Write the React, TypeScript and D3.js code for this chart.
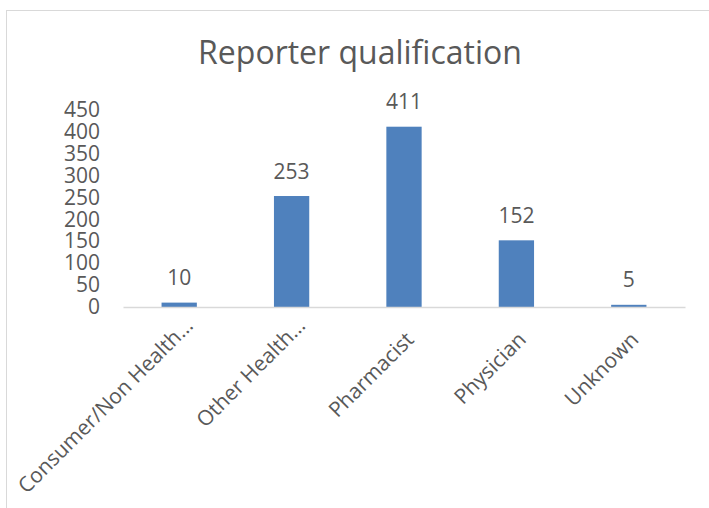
import React, { useRef, useEffect } from "react";
import * as d3 from "d3";

const categories = [
  "Consumer/Non Health…",
  "Other Health…",
  "Pharmacist",
  "Physician",
  "Unknown",
];
const counts = [10, 253, 411, 152, 5];
const yTicks = [0, 50, 100, 150, 200, 250, 300, 350, 400, 450];
const title = "Reporter qualification";

const App = () => {
  const ref = useRef<SVGSVGElement>(null);

  useEffect(() => {
    const svg = d3.select(ref.current);
    svg.selectAll("*").remove();

    const width = 709;
    const height = 508;
    const font = "'Open Sans', sans-serif";
    const textColor = "#595959";
    const plot = { left: 123, right: 685, top: 109.6, bottom: 307 };

    const x = d3
      .scaleBand()
      .domain(categories)
      .range([plot.left, plot.right])
      .paddingInner(0.686)
      .paddingOuter(0.343);

    const y = d3
      .scaleLinear()
      .domain([0, 450])
      .range([plot.bottom, plot.top]);

    // chart area border (clipped at right and bottom like the screenshot)
    svg
      .append("rect")
      .attr("x", 6.5)
      .attr("y", 10.5)
      .attr("width", width + 20)
      .attr("height", height + 20)
      .attr("fill", "white")
      .attr("stroke", "#D9D9D9")
      .attr("stroke-width", 1);

    svg
      .append("text")
      .attr("x", 360)
      .attr("y", 64)
      .attr("text-anchor", "middle")
      .style("font-family", font)
      .style("font-size", "32px")
      .style("fill", textColor)
      .text(title);

    // y axis labels, no line or ticks
    const yAxis = svg
      .append("g")
      .attr("transform", `translate(${plot.left},0)`)
      .call(d3.axisLeft(y).tickValues(yTicks).tickSize(0).tickPadding(23));
    yAxis.select(".domain").remove();
    yAxis
      .selectAll("text")
      .style("font-family", font)
      .style("font-size", "21px")
      .style("fill", textColor);

    svg
      .append("g")
      .selectAll("rect")
      .data(counts)
      .join("rect")
      .attr("x", (d, i) => x(categories[i]))
      .attr("y", (d) => y(d))
      .attr("width", x.bandwidth())
      .attr("height", (d) => y(0) - y(d))
      .attr("fill", "#4F81BD");

    // category axis line
    const xAxis = svg
      .append("g")
      .attr("transform", `translate(0,${plot.bottom})`)
      .call(d3.axisBottom(x).tickSize(0).tickFormat(() => ""));
    xAxis.select(".domain").attr("stroke", "#D9D9D9").attr("stroke-width", 1.5);

    svg
      .append("g")
      .selectAll("text")
      .data(categories)
      .join("text")
      .attr("text-anchor", "end")
      .attr("transform", (d) => {
        const cx = x(d) + x.bandwidth() / 2;
        const cut = d.endsWith("…");
        return `translate(${cx + (cut ? 15 : 11)},${cut ? 327 : 341}) rotate(-45)`;
      })
      .style("font-family", font)
      .style("font-size", "21px")
      .style("fill", textColor)
      .text((d) => d);

    svg
      .append("g")
      .selectAll("text")
      .data(counts)
      .join("text")
      .attr("x", (d, i) => x(categories[i]) + x.bandwidth() / 2)
      .attr("y", (d) => y(d) - 17.5)
      .attr("text-anchor", "middle")
      .style("font-family", font)
      .style("font-size", "21px")
      .style("fill", textColor)
      .text((d) => d);
  }, []);

  return (
    <svg
      ref={ref}
      width={709}
      height={508}
      style={{ position: "absolute", left: 0, top: 0 }}
    ></svg>
  );
};

export default App;
